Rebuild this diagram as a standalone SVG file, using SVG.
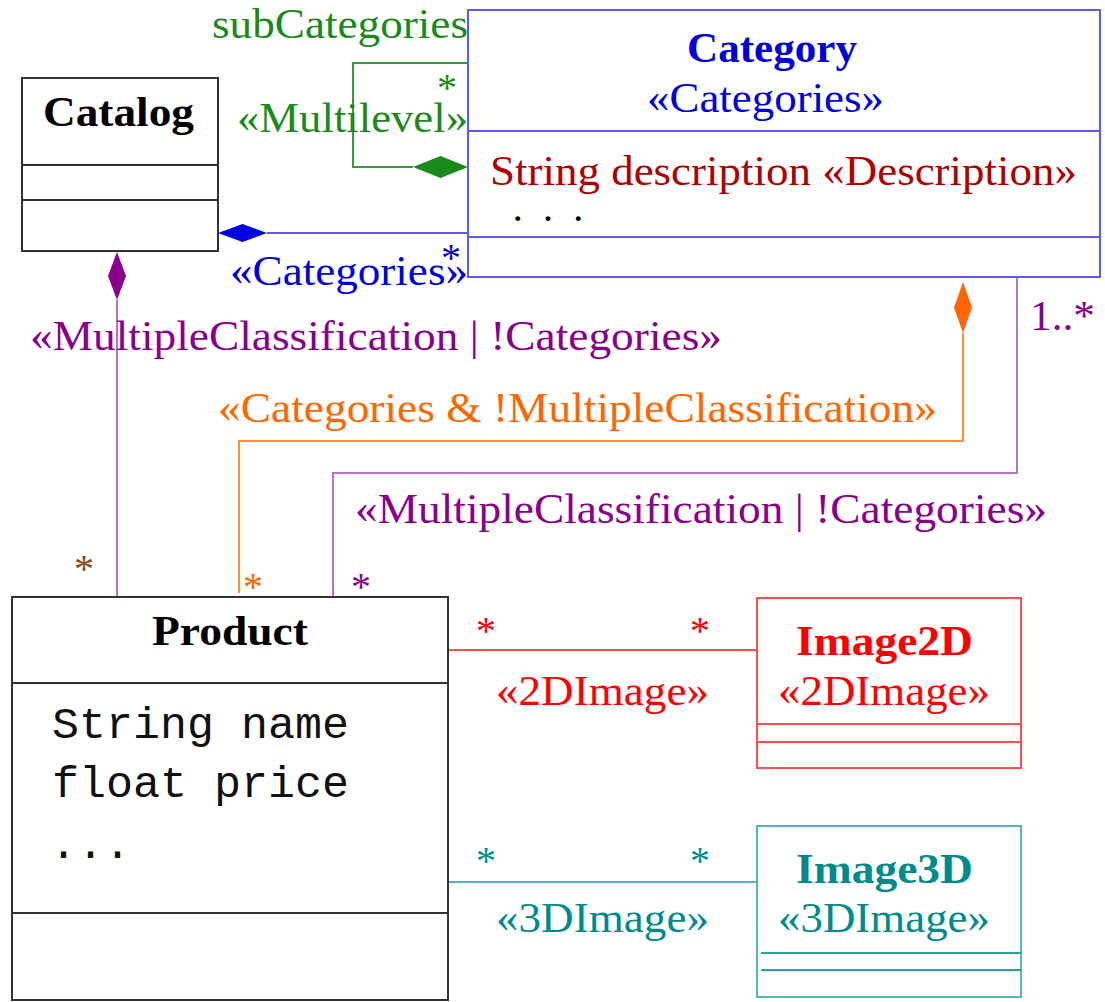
<svg xmlns="http://www.w3.org/2000/svg" width="1105" height="1002" viewBox="0 0 1105 1002">
<style>
text{font-family:"Liberation Serif","Times New Roman",serif;font-size:42px}
.b{font-weight:bold;font-size:43px}
.m{font-family:"Liberation Mono","Courier New",monospace;font-size:45px;fill:#111}
.box{fill:#fff;stroke-width:2}
.ln{fill:none;stroke-width:2}
.st{text-anchor:middle;font-size:40px}
</style>
<rect width="1105" height="1002" fill="#fff"/>
<g id="connectors">
  <polyline class="ln" stroke="#3a9a3a" points="468,63 353,63 353,167 413,167"/>
  <polygon fill="#1a8a1a" points="468,167 440.5,156 413,167 440.5,178"/>
  <text x="447" y="101" class="st" fill="#1a8a1a">*</text>
  <text x="212" y="38" fill="#1a8a1a" textLength="256" lengthAdjust="spacingAndGlyphs">subCategories</text>
  <text x="237" y="132" fill="#1a8a1a" textLength="231" lengthAdjust="spacingAndGlyphs">«Multilevel»</text>
  <line class="ln" stroke="#5b5bf0" x1="267" y1="233" x2="468" y2="233"/>
  <polygon fill="#0000e0" points="218,233 242.5,224 267,233 242.5,242"/>
  <text x="451" y="271" class="st" fill="#0000e0">*</text>
  <text x="230" y="285" fill="#0000e0" textLength="238" lengthAdjust="spacingAndGlyphs">«Categories»</text>
  <line class="ln" stroke="#b870c8" x1="117" y1="300" x2="117" y2="597"/>
  <polygon fill="#8b008b" points="117,252 126,276 117,300 108,276"/>
  <text x="30" y="350" fill="#8b008b" textLength="692" lengthAdjust="spacingAndGlyphs">«MultipleClassification | !Categories»</text>
  <text x="84" y="582" class="st" fill="#8b4513">*</text>
  <polyline class="ln" stroke="#ff8c40" points="963,333 963,441 239,441 239,593"/>
  <polygon fill="#ff6600" points="963,282 972,307.5 963,333 954,307.5"/>
  <text x="218" y="422" fill="#ff6600" textLength="719" lengthAdjust="spacingAndGlyphs">«Categories &amp; !MultipleClassification»</text>
  <text x="253" y="600" class="st" fill="#ff6600">*</text>
  <polyline class="ln" stroke="#b870c8" points="1017,277 1017,473 333,473 333,597"/>
  <text x="1030" y="330" fill="#8b008b" textLength="65" lengthAdjust="spacingAndGlyphs">1..*</text>
  <text x="355" y="523" fill="#8b008b" textLength="692" lengthAdjust="spacingAndGlyphs">«MultipleClassification | !Categories»</text>
  <text x="361" y="600" class="st" fill="#8b008b">*</text>
  <line class="ln" stroke="#ff5050" x1="448" y1="650" x2="757" y2="650"/>
  <text x="486" y="644" class="st" fill="#ff0000">*</text>
  <text x="700" y="644" class="st" fill="#ff0000">*</text>
  <text x="496" y="705" fill="#ff0000" textLength="213" lengthAdjust="spacingAndGlyphs">«2DImage»</text>
  <line class="ln" stroke="#50b8b8" x1="448" y1="882" x2="757" y2="882"/>
  <text x="486" y="874" class="st" fill="#008b8b">*</text>
  <text x="700" y="874" class="st" fill="#008b8b">*</text>
  <text x="496" y="932" fill="#008b8b" textLength="213" lengthAdjust="spacingAndGlyphs">«3DImage»</text>
</g>
<g id="catalog">
  <rect class="box" stroke="#333" x="22" y="78" width="196" height="173"/>
  <line stroke="#333" stroke-width="2" x1="22" y1="165" x2="218" y2="165"/>
  <line stroke="#333" stroke-width="2" x1="22" y1="200" x2="218" y2="200"/>
  <text class="b" x="43" y="126" fill="#000" textLength="151" lengthAdjust="spacingAndGlyphs">Catalog</text>
</g>
<g id="category">
  <rect class="box" stroke="#5b5bf0" x="468" y="10" width="632" height="267"/>
  <line stroke="#5b5bf0" stroke-width="2" x1="468" y1="131" x2="1100" y2="131"/>
  <line stroke="#5b5bf0" stroke-width="2" x1="468" y1="237" x2="1100" y2="237"/>
  <text class="b" x="687" y="62" fill="#0000e0" textLength="170" lengthAdjust="spacingAndGlyphs">Category</text>
  <text x="647" y="112" fill="#0000e0" textLength="237" lengthAdjust="spacingAndGlyphs">«Categories»</text>
  <text x="490" y="185" fill="#b00000" textLength="587" lengthAdjust="spacingAndGlyphs">String description «Description»</text>
  <text x="514" y="221" fill="#000" style="font-size:30px;font-weight:bold" textLength="68" lengthAdjust="spacing">. . .</text>
</g>
<g id="product">
  <rect class="box" stroke="#333" x="12" y="597" width="436" height="403"/>
  <line stroke="#333" stroke-width="2" x1="12" y1="683" x2="448" y2="683"/>
  <line stroke="#333" stroke-width="2" x1="12" y1="913" x2="448" y2="913"/>
  <text class="b" x="152" y="645" fill="#000" textLength="156" lengthAdjust="spacingAndGlyphs">Product</text>
  <text class="m" x="52" y="738">String name</text>
  <text class="m" x="52" y="797">float price</text>
  <text class="m" x="50" y="858">...</text>
</g>
<g id="image2d">
  <rect class="box" stroke="#ff5050" x="757" y="598" width="264" height="170"/>
  <line stroke="#ff5050" stroke-width="2" x1="757" y1="724" x2="1021" y2="724"/>
  <line stroke="#ff5050" stroke-width="2" x1="757" y1="742" x2="1021" y2="742"/>
  <text class="b" x="796" y="655" fill="#ff0000" textLength="177" lengthAdjust="spacingAndGlyphs">Image2D</text>
  <text x="778" y="705" fill="#ff0000" textLength="212" lengthAdjust="spacingAndGlyphs">«2DImage»</text>
</g>
<g id="image3d">
  <rect class="box" stroke="#50b8b8" x="757" y="826" width="264" height="171"/>
  <line stroke="#2aa0a0" stroke-width="2" x1="761" y1="953" x2="1021" y2="953"/>
  <line stroke="#2aa0a0" stroke-width="2" x1="761" y1="970" x2="1021" y2="970"/>
  <text class="b" x="796" y="883" fill="#008b8b" textLength="177" lengthAdjust="spacingAndGlyphs">Image3D</text>
  <text x="778" y="932" fill="#008b8b" textLength="212" lengthAdjust="spacingAndGlyphs">«3DImage»</text>
</g>
</svg>
